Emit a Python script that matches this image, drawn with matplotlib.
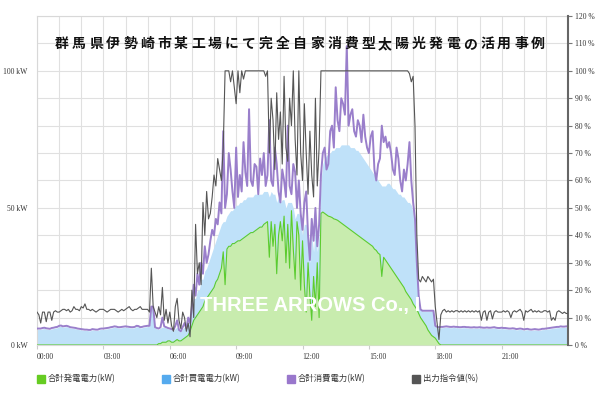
import numpy as np
import matplotlib.pyplot as plt
from matplotlib.patches import Rectangle

# 5 minute samples, one row per hour (00:00 .. 23:55), plus the 24:00 value
gen = [
    0, 0, 0, 0, 0, 0, 0, 0, 0, 0, 0, 0,
    0, 0, 0, 0, 0, 0, 0, 0, 0, 0, 0, 0,
    0, 0, 0, 0, 0, 0, 0, 0, 0, 0, 0, 0,
    0, 0, 0, 0, 0, 0, 0, 0, 0, 0, 0, 0,
    0, 0, 0, 0, 0, 0, 0, 0, 0, 0, 0, 0,
    0, 0, 0, 0, 0, 0, 0.5, 0.5, 1, 1, 1, 1.5,
    1.5, 1, 1, 1.5, 2, 1.5, 1.5, 2, 2.5, 3, 3.5, 5,
    7, 9, 10, 11, 12, 13, 14, 16, 17, 18, 19, 20,
    21, 23, 24, 26, 28, 34, 22, 35, 36, 36, 37, 37,
    37.5, 38, 38, 38.5, 39, 39.5, 40, 40.5, 41, 41, 41.5, 42,
    42.5, 43, 43, 44, 44.5, 45, 32, 45, 36, 44, 26, 40,
    45, 38, 47, 30, 44, 28, 49, 35, 24, 45, 40, 20,
    38, 22, 12, 30, 18, 9, 25, 14, 30, 10, 48, 48.5,
    48, 47.5, 47, 46.8, 46.5, 46, 45.8, 45.5, 45, 44.5, 44, 43.5,
    43, 42.5, 42, 41.5, 41, 40.5, 40, 39.5, 39, 38.5, 38, 37.5,
    37, 36.5, 36, 35, 34.5, 33.5, 33, 25, 32, 31, 30, 29,
    28, 27, 26, 25, 24, 23, 22, 21, 19.5, 18.5, 17.5, 16.5,
    15, 14, 13, 11.5, 10, 9, 8, 7, 5.5, 4.5, 3.5, 3,
    2.5, 1.5, 0.5, 0, 0, 0, 0, 0, 0, 0, 0, 0,
    0, 0, 0, 0, 0, 0, 0, 0, 0, 0, 0, 0,
    0, 0, 0, 0, 0, 0, 0, 0, 0, 0, 0, 0,
    0, 0, 0, 0, 0, 0, 0, 0, 0, 0, 0, 0,
    0, 0, 0, 0, 0, 0, 0, 0, 0, 0, 0, 0,
    0, 0, 0, 0, 0, 0, 0, 0, 0, 0, 0, 0,
    0]

# purchased power, drawn stacked on top of generation
buy = [
    5.7, 5.7, 5.7, 5.9, 6.0, 5.8, 5.7, 5.6, 5.9, 6.0, 6.2, 6.3,
    6.7, 6.8, 6.5, 6.6, 6.7, 6.5, 6.2, 6.1, 6.0, 5.9, 5.7, 5.6,
    5.5, 5.4, 5.3, 5.3, 5.2, 5.2, 5.5, 5.4, 5.3, 5.3, 5.6, 5.7,
    5.7, 5.8, 5.9, 6.0, 6.2, 6.3, 6.5, 6.4, 6.2, 6.2, 6.3, 6.4,
    6.5, 6.4, 6.3, 6.2, 6.2, 6.3, 6.7, 6.6, 6.2, 6.3, 6.5, 6.6,
    6.7, 6.7, 13.7, 13.7, 6.2, 5.9, 5.2, 5.7, 5.5, 5.5, 5.2, 4.4,
    4.2, 4.5, 4.2, 4.5, 4.5, 3.7, 3.3, 4, 4, 2.8, 4.5, 3,
    6, 8, 7, 9, 8, 11, 10, 11, 11, 12, 13, 14,
    15, 15, 16, 16, 16, 11, 23, 12, 12, 13, 12, 13,
    13.5, 13, 14, 13.5, 14, 13.5, 14, 13.5, 13, 13, 13.5, 13,
    12.5, 12, 12, 12, 11.5, 11, 22, 11, 19, 11, 26, 14,
    7, 15, 6, 20, 8, 24, 3, 15, 22, 3, 8, 26,
    2, 22, 32, 8, 12, 31, 9, 30, 4, 30, 12, 17.5,
    20, 21.5, 23, 23.2, 24.5, 25, 26.2, 26.5, 27, 28.5, 29, 29.5,
    30, 30.5, 30, 30.5, 31, 30.5, 31, 30.5, 30, 29.5, 29, 28.5,
    28, 27.5, 27, 27, 26.5, 26.5, 26, 33, 26, 27, 29, 30,
    30, 30, 31, 31, 31, 32, 32, 33, 33.5, 33.5, 34.5, 34.5,
    33, 26, 15, 4.5, 3, 3.3, 4.3, 5.3, 6.8, 7.8, 8.8, 9.3,
    4.2, 4.8, 5.7, 6.3, 6.3, 6.4, 6.5, 6.4, 6.3, 6.3, 6.4, 6.3,
    6.3, 6.2, 6.2, 6.3, 6.3, 6.2, 6.2, 6.1, 6.1, 6.2, 6.1, 6.1,
    6.2, 6.1, 6.0, 6.0, 6.1, 6.0, 6.0, 6.1, 6.2, 6.0, 5.9, 5.9,
    6.0, 5.9, 5.9, 5.8, 5.7, 5.7, 5.8, 5.7, 5.5, 5.6, 5.7, 5.6,
    5.4, 5.5, 5.6, 5.4, 5.3, 5.4, 5.5, 5.4, 5.3, 5.4, 5.6, 5.6,
    5.7, 5.8, 5.9, 6.0, 6.1, 6.2, 6.3, 6.3, 6.5, 6.4, 6.4, 6.5,
    6.5]

use = [
    6, 6, 6, 6.2, 6.3, 6.1, 6, 5.9, 6.2, 6.3, 6.5, 6.6,
    7, 7.1, 6.8, 6.9, 7, 6.8, 6.5, 6.4, 6.3, 6.2, 6, 5.9,
    5.8, 5.7, 5.6, 5.6, 5.5, 5.5, 5.8, 5.7, 5.6, 5.6, 5.9, 6,
    6, 6.1, 6.2, 6.3, 6.5, 6.6, 6.8, 6.7, 6.5, 6.5, 6.6, 6.7,
    6.8, 6.7, 6.6, 6.5, 6.5, 6.6, 7, 6.9, 6.5, 6.6, 6.8, 6.9,
    7, 7, 14, 14, 6.5, 6.2, 6, 6.5, 10, 6.8, 6.5, 6.2,
    6, 5.8, 5.5, 7, 9, 5.5, 5, 6.5, 8, 6, 10, 8,
    14, 22, 18, 26, 22, 30, 26, 36, 30, 33, 38, 42,
    40, 46, 44, 52, 48, 78, 50, 55, 70, 64, 56, 50,
    72, 54, 62, 56, 74, 63, 58, 86, 60, 58, 66, 65,
    55, 68, 62, 70, 58, 62, 82, 60, 58, 72, 66, 56,
    52, 64, 60, 54, 80, 58, 55, 66, 63, 50, 60, 48,
    42, 52, 56, 40, 31, 46, 38, 50, 36, 44, 62, 70,
    72, 64, 66, 78, 80, 72, 94, 82, 78, 90, 88, 84,
    109, 80, 84, 86, 78, 76, 82, 80, 74, 84, 76, 72,
    70, 76, 78, 64, 60, 66, 68, 80, 74, 76, 72, 74,
    70, 64, 62, 72, 68, 60, 56, 64, 60, 66, 74, 60,
    52, 46, 30, 18, 13, 12.5, 12.5, 12.5, 12.5, 12.5, 12.5, 12.5,
    7, 6.6, 6.5, 6.6, 6.6, 6.7, 6.8, 6.7, 6.6, 6.6, 6.7, 6.6,
    6.6, 6.5, 6.5, 6.6, 6.6, 6.5, 6.5, 6.4, 6.4, 6.5, 6.4, 6.4,
    6.5, 6.4, 6.3, 6.3, 6.4, 6.3, 6.3, 6.4, 6.5, 6.3, 6.2, 6.2,
    6.3, 6.2, 6.2, 6.1, 6, 6, 6.1, 6, 5.8, 5.9, 6, 5.9,
    5.7, 5.8, 5.9, 5.7, 5.6, 5.7, 5.8, 5.7, 5.6, 5.7, 5.9, 5.9,
    6, 6.1, 6.2, 6.3, 6.4, 6.5, 6.6, 6.6, 6.8, 6.7, 6.7, 6.8,
    6.8]

# output command, %
cmd = [
    12, 11, 8, 12, 12, 8.5, 12, 12, 9, 12, 12.5, 12,
    12, 12.5, 13, 13, 12.5, 13, 12, 12.5, 14, 13, 13, 12.5,
    14, 13.5, 15, 13, 13, 12.5, 13, 12.5, 12, 12.5, 13, 13,
    13, 12.5, 12, 12.5, 13, 13, 13, 12.5, 12, 12.5, 13, 12.5,
    13, 13.5, 14, 13, 12.5, 13, 13, 13.5, 14, 13, 13, 13,
    13, 12, 28, 14, 12, 10, 14, 11, 21, 9, 13, 8,
    12, 7, 5, 14, 17, 9, 6, 12, 10, 5, 8, 3,
    20, 10, 44, 26, 30, 22, 52, 40, 56, 46, 48, 54,
    62, 58, 68, 64, 60, 72, 100, 100, 100, 96, 100, 94,
    88, 100, 92, 100, 97, 100, 100, 100, 100, 100, 100, 100,
    100, 100, 100, 100, 98, 100, 70, 90, 82, 64, 92, 75,
    85, 66, 98, 72, 67, 90, 80, 100, 75, 62, 100, 70,
    60, 88, 70, 55, 78, 62, 54, 90, 58, 72, 100, 100,
    100, 100, 100, 100, 100, 100, 100, 100, 100, 100, 100, 100,
    100, 100, 100, 100, 100, 100, 100, 100, 100, 100, 100, 100,
    100, 100, 100, 100, 100, 100, 100, 100, 100, 100, 100, 100,
    100, 100, 100, 100, 100, 100, 100, 100, 100, 100, 99, 96,
    98, 80, 40, 24, 23, 25, 24, 23, 25, 24, 23, 24,
    14, 8, 2, 11, 12.5, 13, 12, 12.5, 12, 12.5, 12, 12.5,
    12.5, 12, 12.5, 12, 12.5, 12, 12.5, 12, 12.5, 12, 12.5, 12,
    12.5, 9, 12, 12.5, 9, 12, 12.5, 9.5, 12, 12.5, 12, 12,
    12, 12.5, 12, 12.5, 12, 10, 12, 12.5, 12, 12.5, 13, 12,
    9, 12.5, 12, 12.5, 13, 12, 12.5, 12, 12.5, 12, 12, 12.5,
    12.5, 12, 12.5, 9, 10, 9, 12, 12.5, 12, 11.5, 12, 11.5,
    11.5]

title = "群馬県伊勢崎市某工場にて完全自家消費型太陽光発電の活用事例"
legend_labels = ["合計発電電力(kW)", "合計買電電力(kW)", "合計消費電力(kW)", "出力指令値(%)"]
legend_colors = ["#66cc22", "#55aaee", "#9977cc", "#555555"]
hour_labels = ["00:00", "03:00", "06:00", "09:00", "12:00", "15:00", "18:00", "21:00"]

gen = np.array(gen, dtype=float)
buy = np.array(buy, dtype=float)
use = np.array(use, dtype=float)
cmd = np.array(cmd, dtype=float)
hours = np.arange(len(gen)) / 12.0

tick_font = dict(family="Liberation Serif", size=5.5, color="#333333")

fig = plt.figure(figsize=(6, 3.96), dpi=100)
ax = fig.add_axes([0.0617, 0.1288, 0.885, 0.8308])

ax.fill_between(hours, 0, gen + buy, color="#bfe1f9", lw=0, zorder=2)
ax.fill_between(hours, 0, gen, color="#c8ecae", lw=0, zorder=3)
ax.plot(hours, gen, color="#5ccc2e", lw=0.8, zorder=4)
ax.plot(hours, use, color="#9a7fcb", lw=1.4, zorder=5)

ax.set_xlim(0, 24)
ax.set_ylim(0, 120)
ax.set_xticks(np.arange(0, 24, 3))
ax.set_xticklabels(hour_labels, ha="left", **tick_font)
ax.set_xticks(np.arange(0, 25, 1), minor=True)
ax.set_yticks(np.arange(0, 121, 10))
ax.set_yticklabels(["0 kW" if v == 0 else "50 kW" if v == 50 else "100 kW" if v == 100 else ""
                    for v in range(0, 121, 10)], **tick_font)
ax.tick_params(axis="y", length=0, pad=7)
ax.tick_params(axis="x", which="major", length=3, color="#cccccc", pad=3)
ax.tick_params(axis="x", which="minor", length=0)
ax.grid(True, which="both", color="#e0e0e0", lw=0.8, zorder=0)
ax.set_axisbelow(True)
for s in ["left", "top", "bottom"]:
    ax.spines[s].set_color("#d8d8d8")
ax.spines["right"].set_visible(False)

ax2 = ax.twinx()
ax2.plot(hours, cmd, color="#555555", lw=0.8, zorder=6)
ax2.set_ylim(0, 120)
ax2.set_yticks(np.arange(0, 121, 10))
ax2.set_yticklabels([f"{v} %" for v in range(0, 121, 10)], **tick_font)
ax2.tick_params(axis="y", length=3, color="#777777", pad=2)
ax2.spines["right"].set_color("#666666")
ax2.spines["right"].set_linewidth(1.5)
for s in ["left", "top", "bottom"]:
    ax2.spines[s].set_visible(False)

# title, letter by letter to get the wide spacing
xs = np.linspace(62, 538, len(title)) / 600
for ch, x in zip(title, xs):
    fig.text(x, 1 - 44 / 396, ch, ha="center", va="center", fontsize=10,
             fontweight="bold", family="Noto Sans CJK JP", color="#111111", zorder=10)

wm = fig.text(200 / 600, 1 - 305 / 396, "THREE ARROWS Co., Ltd", ha="left", va="center",
              fontsize=14.5, fontweight="bold", family="Liberation Sans", color="white", zorder=10)
clip = Rectangle((0, 0), 419 / 600, 1, transform=fig.transFigure, visible=False)
fig.patches.append(clip)
wm.set_clip_path(clip)

# legend
for k, (lab, col) in enumerate(zip(legend_labels, legend_colors)):
    x0 = (37 + 125 * k) / 600
    fig.patches.append(Rectangle((x0, 1 - 383 / 396), 8 / 600, 8 / 396, color=col,
                                 transform=fig.transFigure))
    fig.text(x0 + 11 / 600, 1 - 379 / 396, lab, ha="left", va="center", fontsize=6,
             family="Noto Sans CJK JP", color="#333333")

fig.savefig("out.png", dpi=100)
